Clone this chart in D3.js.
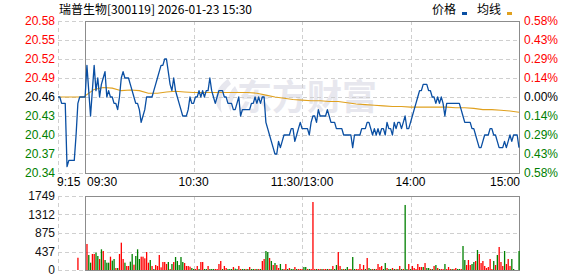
<!DOCTYPE html>
<html>
<head>
<meta charset="utf-8">
<script src="https://cdn.jsdelivr.net/npm/d3@7"></script>
<style>
  body { margin: 0; background: #fff; }
  svg { display: block; font-family: "Liberation Sans", Arial, sans-serif; font-size: 12px; }
</style>
</head>
<body>
<svg id="chart" width="578" height="276"></svg>
<script>
const title = "瑞普生物[300119] 2026-01-23 15:30";
const prevClose = 20.46;
const priceTicks = [20.58, 20.55, 20.52, 20.49, 20.46, 20.43, 20.40, 20.37, 20.34];
const pctLabels = ["0.58%", "0.43%", "0.29%", "0.14%", "0.00%", "0.14%", "0.29%", "0.43%", "0.58%"];
const volTicks = [1749, 1312, 875, 437, 0];
const timeLabels = ["9:15", "09:30", "10:30", "11:30/13:00", "14:00", "15:00"];
const timeAt = [-15, 0, 60, 120, 180, 240];   // minutes from 09:30
const gridAt = [60, 120, 180];

// call auction 9:15 - 9:29
const prePrice = [20.46, 20.46, 20.45, 20.45, 20.45, 20.35, 20.36, 20.36, 20.36, 20.36,
                  20.40, 20.45, 20.46, 20.46, 20.46];
const preVol = [0, 0, 0, 0, 0, 0, 0, 0, 0, 0, 0, 290, 0, 0, 0];

// one price per minute, 09:30 .. 15:00 (241)
const price = [
  20.46,20.51,20.47,20.43,20.47,20.51,20.47,20.49,20.46,20.48,
  20.49,20.50,20.46,20.47,20.46,20.46,20.45,20.45,20.44,20.46,
  20.49,20.50,20.49,20.49,20.49,20.48,20.47,20.46,20.45,20.45,
  20.44,20.42,20.43,20.44,20.46,20.46,20.46,20.46,20.47,20.48,
  20.49,20.50,20.51,20.51,20.52,20.52,20.50,20.48,20.47,20.49,
  20.47,20.46,20.45,20.44,20.43,20.43,20.43,20.44,20.46,20.45,
  20.45,20.46,20.46,20.47,20.46,20.47,20.46,20.47,20.47,20.49,
  20.47,20.46,20.45,20.46,20.47,20.47,20.47,20.46,20.46,20.45,
  20.45,20.45,20.44,20.44,20.45,20.46,20.43,20.44,20.44,20.44,
  20.44,20.44,20.45,20.45,20.46,20.45,20.46,20.45,20.46,20.46,
  20.42,20.41,20.40,20.39,20.38,20.37,20.37,20.39,20.38,20.39,
  20.40,20.40,20.40,20.40,20.41,20.41,20.39,20.40,20.41,20.42,
  20.41,20.41,20.41,20.41,20.40,20.42,20.43,20.43,20.42,20.44,
  20.43,20.43,20.43,20.43,20.44,20.43,20.42,20.42,20.42,20.41,
  20.41,20.41,20.41,20.40,20.40,20.40,20.40,20.40,20.38,20.40,
  20.40,20.40,20.40,20.41,20.41,20.41,20.42,20.42,20.41,20.40,
  20.41,20.40,20.41,20.40,20.41,20.41,20.40,20.42,20.41,20.41,
  20.40,20.42,20.41,20.42,20.42,20.41,20.42,20.43,20.41,20.41,
  20.42,20.43,20.44,20.45,20.46,20.47,20.47,20.48,20.48,20.48,
  20.47,20.47,20.46,20.46,20.45,20.46,20.45,20.46,20.45,20.43,
  20.45,20.45,20.45,20.45,20.45,20.45,20.45,20.45,20.44,20.43,
  20.42,20.42,20.42,20.42,20.41,20.41,20.40,20.39,20.38,20.38,
  20.39,20.40,20.40,20.40,20.41,20.41,20.40,20.40,20.39,20.38,
  20.38,20.38,20.39,20.38,20.39,20.40,20.39,20.40,20.40,20.40,20.38
];

// average price, read every 5 minutes
const avgPrice = [
  20.462,20.472,20.475,20.474,20.470,20.471,20.470,20.466,20.466,20.468,
  20.469,20.468,20.467,20.467,20.467,20.467,20.467,20.467,20.467,20.466,
  20.463,20.460,20.458,20.456,20.455,20.454,20.454,20.453,20.453,20.451,
  20.449,20.448,20.447,20.446,20.445,20.445,20.444,20.444,20.444,20.444,
  20.444,20.443,20.443,20.442,20.440,20.440,20.439,20.438,20.436
];

// volume per minute 09:31 .. 15:00 (240)
const vol = [
  615,355,173,378,378,410,331,260,489,449,
  236,173,173,315,221,260,47,47,378,646,
  260,173,95,95,197,378,126,331,489,260,
  315,315,276,425,173,236,95,24,118,95,
  355,63,189,189,142,189,24,142,189,307,
  213,118,307,189,165,95,95,79,47,24,
  24,95,24,189,189,24,24,95,24,24,
  24,24,24,142,213,24,95,47,24,24,
  24,71,32,24,95,24,24,24,24,24,
  71,24,24,24,24,24,24,213,260,449,
  425,284,213,118,165,118,47,142,24,24,
  142,24,47,24,24,71,24,24,24,24,
  71,71,24,24,24,1607,24,24,24,24,
  24,24,24,24,24,24,95,24,118,425,
  95,24,24,24,71,24,24,307,24,24,
  24,142,24,118,24,284,47,24,24,24,
  24,142,71,95,24,165,47,24,24,47,
  24,24,24,95,24,24,1537,24,142,24,
  95,47,24,142,71,71,71,165,47,47,
  24,24,95,118,47,24,24,24,142,24,
  71,24,24,24,47,24,24,24,567,236,
  118,236,118,142,189,213,473,378,165,213,
  95,47,71,260,24,213,118,355,544,189,
  95,449,142,260,95,260,24,0,0,449
];
// r = up (red), g = down (green)
const volSide = (
  "rggrrggrgr" + "gggrggrgrr" + "rgrrggrggg" + "rrrrrgrgrr" + "rrrrrgrgrg" + "ggggrrrrgg" +
  "rrgrrggrgg" + "grrrrgrrgg" + "grggrrggrg" + "rggrgrgrrg" + "grgrgrrggr" + "rgrggrgrrr" +
  "ggrgrrrgrr" + "grrgrgrggr" + "rgrggrrggr" + "rrrrgrggrg" + "rrrrggrggr" + "grgrgrggrg" +
  "rrrrrrgrgg" + "rgrgrgrrgr" + "rrgrrggrgg" + "rrrggrgrrr" + "rrrrrgrgrr" + "rgrrrggggg"
).split("");

function init() {
    const RED = "#ff0000", GREEN = "#008000", GRID = "#cfcfcf", BORDER = "#8c8c8c";
    const svg = d3.select("#chart");

    const x = d3.scaleLinear().domain([-15, 240]).range([58, 519]);
    const y = d3.scaleLinear().domain([20.34, 20.58]).range([173, 21]);
    const yv = d3.scaleLinear().domain([0, 1749]).range([270, 196]);
    const px = (v) => Math.round(v) + 0.5;

    // watermark
    const wm = svg.append("g").attr("fill", "#e7e7ee");
    wm.append("path")
        .attr("d", "M228,79 C214,88 212,104 222,113 C219,103 221,92 231,84 Z M235,86 C227,94 226,104 231,112 C231,104 233,97 238,92 Z");
    wm.append("text")
        .attr("x", 237).attr("y", 110)
        .attr("font-family", "'Noto Sans CJK SC', sans-serif")
        .attr("font-weight", "bold")
        .attr("font-size", 35)
        .text("东方财富");

    // horizontal grid
    const drawHGrid = (ticks, scale) => {
        svg.append("g").selectAll("line")
            .data(ticks)
            .join("line")
            .attr("x1", x(-15)).attr("x2", x(240))
            .attr("y1", d => px(scale(d))).attr("y2", d => px(scale(d)))
            .attr("stroke", GRID)
            .attr("stroke-dasharray", "4,3");
    };
    drawHGrid(priceTicks, y);
    drawHGrid(volTicks, yv);

    // vertical grid + auction region edge
    [[21, 173], [196, 270]].forEach(([t, b]) => {
        svg.append("g").selectAll("line")
            .data([-15].concat(gridAt))
            .join("line")
            .attr("x1", d => px(x(d))).attr("x2", d => px(x(d)))
            .attr("y1", t).attr("y2", b)
            .attr("stroke", GRID)
            .attr("stroke-dasharray", "4,3");
        svg.append("rect")
            .attr("x", px(x(0))).attr("y", px(t))
            .attr("width", Math.round(x(240) - x(0))).attr("height", Math.round(b - t))
            .attr("fill", "none")
            .attr("stroke", BORDER);
    });

    // volume bars
    const bars = preVol.map((v, i) => ({ t: i - 15, v: v, up: true }))
        .concat(vol.map((v, i) => ({ t: i + 1, v: v, up: volSide[i] === "r" })))
        .filter(d => d.v > 0);
    svg.append("g").selectAll("rect")
        .data(bars)
        .join("rect")
        .attr("x", d => x(d.t) - 0.6)
        .attr("width", 1.3)
        .attr("y", d => yv(d.v))
        .attr("height", d => yv(0) - yv(d.v))
        .attr("fill", d => d.up ? RED : GREEN);

    // average line
    const avgPts = [[-15, prevClose], [0, prevClose]].concat(avgPrice.map((v, i) => [i * 5, v]));
    svg.append("path")
        .attr("d", d3.line().x(d => x(d[0])).y(d => y(d[1]))(avgPts))
        .attr("fill", "none")
        .attr("stroke", "#e0a11f")
        .attr("stroke-width", 1.1);

    // price line
    const pts = prePrice.map((v, i) => [i - 15, v]).concat(price.map((v, i) => [i, v]));
    svg.append("path")
        .attr("d", d3.line().x(d => x(d[0])).y(d => y(d[1]))(pts))
        .attr("fill", "none")
        .attr("stroke", "#0a4fa3")
        .attr("stroke-width", 1.3)
        .attr("stroke-linejoin", "round");

    // price labels (left) and change labels (right)
    const tickColor = (d) => d > prevClose + 1e-9 ? RED : (d < prevClose - 1e-9 ? GREEN : "#000");
    svg.append("g").selectAll("text")
        .data(priceTicks)
        .join("text")
        .attr("x", 55).attr("y", d => y(d))
        .attr("dy", "0.35em")
        .attr("text-anchor", "end")
        .attr("fill", tickColor)
        .text(d => d.toFixed(2));
    svg.append("g").selectAll("text")
        .data(pctLabels)
        .join("text")
        .attr("x", 524).attr("y", (d, i) => y(priceTicks[i]))
        .attr("dy", "0.35em")
        .attr("fill", (d, i) => tickColor(priceTicks[i]))
        .text(d => d);

    // volume labels
    svg.append("g").selectAll("text")
        .data(volTicks)
        .join("text")
        .attr("x", 55).attr("y", d => yv(d))
        .attr("dy", "0.35em")
        .attr("text-anchor", "end")
        .attr("fill", "#111")
        .text(d => d);

    // time labels
    svg.append("g").selectAll("text")
        .data(timeLabels)
        .join("text")
        .attr("x", (d, i) => i === 0 ? x(timeAt[i]) - 1 : i === 1 ? x(timeAt[i]) + 2 : i === timeLabels.length - 1 ? x(timeAt[i]) + 1 : x(timeAt[i]))
        .attr("y", 186)
        .attr("text-anchor", (d, i) => i < 2 ? "start" : i === timeLabels.length - 1 ? "end" : "middle")
        .attr("fill", "#000")
        .text(d => d);

    // title + legend
    const cjk = "'Noto Sans CJK SC', 'Liberation Sans', sans-serif";
    svg.append("text")
        .attr("x", 59).attr("y", 14)
        .attr("font-family", cjk)
        .attr("fill", "#000")
        .text(title);
    const legend = [["价格", "#0a4fa3", 432], ["均线", "#e0a11f", 477]];
    legend.forEach(([name, color, lx]) => {
        svg.append("text")
            .attr("x", lx).attr("y", 14)
            .attr("font-family", cjk)
            .attr("fill", "#000")
            .text(name);
        svg.append("rect")
            .attr("x", lx + 30).attr("y", 12)
            .attr("width", 5).attr("height", 3)
            .attr("fill", color);
    });
}

window.onload = init;
</script>
</body>
</html>
